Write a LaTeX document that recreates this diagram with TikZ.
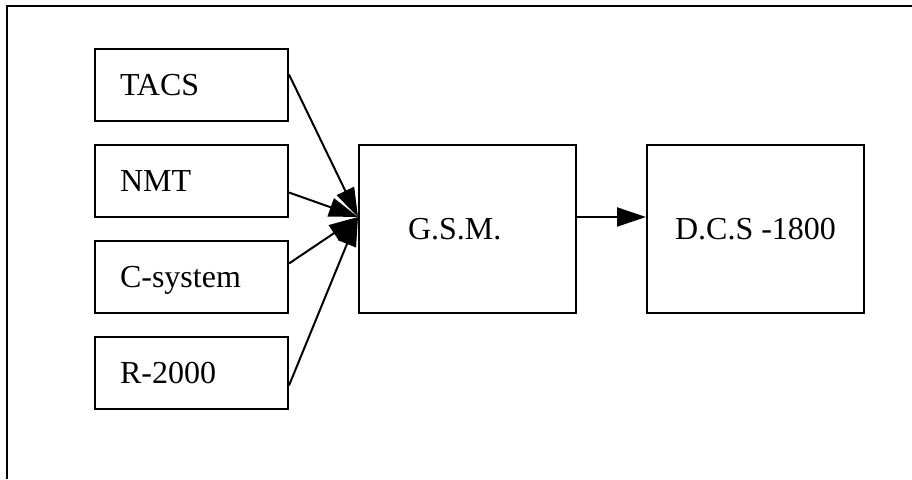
\documentclass[tikz,border=0pt]{standalone}
\usepackage{fontspec}
\setmainfont{Liberation Serif}
\usetikzlibrary{arrows.meta,positioning}

\begin{document}
\begin{tikzpicture}[x=1pt,y=-1pt,->,>={Triangle[length=29pt,width=19pt]},
  line width=2pt,node distance=22pt,
  sys node/.style={rectangle,draw,minimum width=193pt,minimum height=72pt,
    text width=143pt,inner xsep=25pt,align=left,text height=21pt,text depth=0pt,
    font=\fontsize{32}{38}\selectfont},
  main node/.style={rectangle,draw,minimum width=217pt,minimum height=168pt,
    text height=21pt,text depth=0pt,font=\fontsize{32}{38}\selectfont}]
  \useasboundingbox (0,0) rectangle (912,479);
  \draw[-,line width=1.6pt] (7,479) -- (7,6) -- (912,6);
  \node[sys node]  (tacs)  at (191.5,84.5) {TACS};
  \node[sys node]  (nmt)   [below=of tacs] {NMT};
  \node[sys node]  (csys)  [below=of nmt] {C-system};
  \node[sys node]  (r2000) [below=of csys] {R-2000};
  \node[main node,text width=119pt,inner xsep=49pt,align=left]
                   (gsm)   at (467.5,229) {G.S.M.};
  \node[main node] (dcs)   [right=69pt of gsm] {D.C.S -1800};
  \coordinate (hub) at ([yshift=12pt]gsm.west);

  \path
    ([yshift=10pt]tacs.east) edge (hub)
    ([yshift=-12pt]nmt.east) edge (hub)
    ([yshift=13pt]csys.east) edge (hub)
    ([yshift=-13pt]r2000.east) edge (hub)
    ([yshift=12pt]gsm.east) edge ([yshift=12pt]dcs.west);
\end{tikzpicture}
\end{document}
